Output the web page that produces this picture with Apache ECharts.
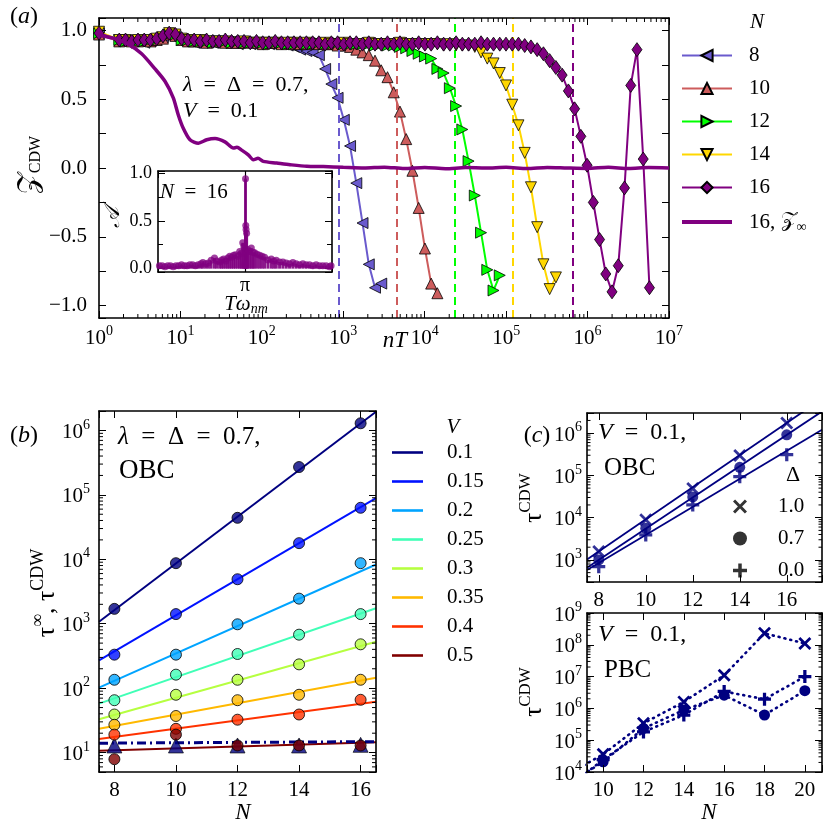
<!DOCTYPE html>
<html>
<head>
<meta charset="utf-8">
<script src="https://cdn.jsdelivr.net/npm/echarts@6.0.0/dist/echarts.min.js"></script>
<style>html,body{margin:0;padding:0;background:#fff;}#chart{width:830px;height:830px;}</style>
</head>
<body>
<div id="chart"></div>
<script>
// ================= DATA =================
// Panel (a): sampling times nT (shared grid) and Z_CDW for each system size
const timeGrid = [1, 1.774, 2.117, 2.525, 3.012, 3.593, 4.285, 5.112, 6.098, 7.274, 8.677,
  10.35, 12.35, 14.73, 17.57, 20.96, 25.0, 29.82, 35.58, 42.44, 50.62,
  60.39, 72.04, 85.93, 102.5, 122.3, 145.9, 174.0, 207.6, 247.6, 295.4,
  352.4, 420.4, 501.5, 598.2, 713.6, 851.1, 1015, 1211, 1445, 1723,
  2056, 2452, 2925, 3490, 4163, 4966, 5924, 7067, 8430, 10060,
  12000, 14310, 17070, 20370, 24290, 28970, 34560, 41230, 49190, 58670,
  69980, 83480, 99590, 118800, 141700, 169000, 201700, 240500, 287000, 342300,
  408300, 487100, 581100, 693200, 826900, 986300, 1177000, 1404000, 1674000, 1997000,
  2382000, 2842000, 3390000, 4044000, 4824000, 5754000, 6864000, 8188000];
const zN8 = [0.98, 0.93,0.92,0.92,0.93,0.91,0.92,0.94,0.95,0.97,0.96, 0.93,0.92,0.91,0.92,0.92,0.91,0.92,0.91,0.92,0.90,
  0.91,0.90,0.91,0.91,0.90,0.91,0.90,0.89,0.88,0.86, 0.85,0.84,0.82,0.72,0.61,0.51,0.35,0.16,-0.11,-0.40, -0.70,-0.87,-0.84];
const zN10 = [0.97, 0.92,0.93,0.92,0.92,0.93,0.92,0.93,0.94,0.97,0.96, 0.93,0.92,0.92,0.92,0.91,0.92,0.92,0.91,0.91,0.91,
  0.91,0.92,0.91,0.90,0.91,0.91,0.90,0.91,0.90,0.90, 0.90,0.91,0.90,0.90,0.90,0.89,0.89,0.88,
  0.86,0.84,0.82,0.78,0.71,0.66,0.55,0.41,0.21,-0.02,-0.29,-0.585,-0.84,-0.91];
const zN12 = [0.98, 0.93,0.92,0.93,0.92,0.92,0.93,0.93,0.95,0.97,0.97, 0.93,0.93,0.92,0.92,0.92,0.91,0.92,0.92,0.91,0.92,
  0.91,0.91,0.91,0.91,0.90,0.91,0.91,0.90,0.90,0.91, 0.90,0.90,0.91,0.90,0.90,0.91,0.90,0.90,0.90,0.90,
  0.90,0.89,0.90,0.89,0.89,0.88,0.87,0.85,
  0.83,0.81,0.795,0.72,0.69,0.58,0.45,0.28,0.05,-0.20,-0.47,-0.74,-0.89,-0.78];
const zN14 = [0.99, 0.93,0.93,0.92,0.93,0.92,0.93,0.94,0.95,0.98,0.97, 0.94,0.93,0.92,0.93,0.92,0.92,0.92,0.92,0.91,0.91,
  0.92,0.91,0.91,0.91,0.91,0.91,0.90,0.91,0.91,0.90, 0.91,0.90,0.90,0.91,0.90,0.90,0.91,0.90,0.90,0.90,
  0.91,0.90,0.90,0.90,0.90,0.91,0.90,0.90,0.90,0.90, 0.90,0.90,0.89,0.90,0.89,0.89,0.89,
  0.88,0.84,0.795,0.76,0.69,0.60,0.46,0.31,0.11,-0.14,-0.43,-0.70,-0.88,-0.795];
const zN16 = [0.98, 0.93,0.93,0.92,0.93,0.93,0.93,0.94,0.96,0.98,0.97, 0.94,0.93,0.93,0.92,0.93,0.92,0.92,0.93,0.92,0.92,
  0.92,0.91,0.92,0.91,0.91,0.92,0.91,0.91,0.91,0.91, 0.91,0.91,0.91,0.90,0.91,0.91,0.90,0.91,0.91,0.90,
  0.91,0.90,0.90,0.91,0.90,0.91,0.90,0.90,0.91,0.90, 0.90,0.91,0.90,0.90,0.91,0.90,0.90,0.90,0.91,0.90,
  0.90,0.90,0.90,0.90,
  0.90,0.89,0.88,0.86,0.83,0.78,0.73,0.675,0.56,0.43,0.23,0.02,-0.25,-0.52,-0.77,-0.90,-0.71,-0.145,0.60,0.86,0.065,-0.87];
const zInfT = [1, 1.57, 2.29, 3.34, 4.88, 6.46, 8.17, 9.42, 10.8, 13.1, 16.6, 21.0, 26.6, 35.2, 44.6, 49.5, 56.5, 68.1, 78.5, 89.7,
  104, 152, 222, 356, 569, 1000, 1800, 3200, 5600, 1e4, 1.8e4, 3.2e4, 5.6e4, 1e5, 1.8e5, 3.2e5, 5.6e5, 1e6, 1.8e6, 3.2e6, 5.6e6, 1e7];
const zInfV = [0.965, 0.94, 0.90, 0.83, 0.72, 0.63, 0.51, 0.385, 0.29, 0.205, 0.18, 0.205, 0.215, 0.19, 0.145, 0.15, 0.13, 0.096, 0.06, 0.07,
  0.048, 0.036, 0.024, 0.012, 0.01, 0.005, 0.0, 0.006, -0.004, 0.004, -0.005, 0.003, 0.0, 0.005, -0.004, 0.004, 0.0, -0.003, 0.005, -0.004, 0.003, 0.0];
const tauDashed = [870, 4530, 23500, 119000, 649000];
// Inset: spectral weight A vs T*omega_nm
const insetW = [0.05,0.15,0.25,0.35,0.45,0.55,0.65,0.75,0.85,0.95,1.05,1.15,1.25,1.35,1.45,1.55,
  1.62,1.72,1.82,1.92,2.04,2.13,2.23,2.30,2.37,2.45, 2.52,2.59,2.66,2.73,2.80,2.88,2.95,3.01,3.06,3.10,
  3.14,3.16,3.17,3.18,3.20,3.24,3.30,3.37,3.43,3.49, 3.58,3.67,3.76,3.85,3.97,4.09,4.18,4.27,4.39,4.51,
  4.63,4.75,4.87,4.99,5.11,5.23,5.35,5.47,5.59,5.71, 5.83,5.95,6.07,6.19,6.25];
const insetA = [0.03,0.03,0.02,0.03,0.03,0.02,0.03,0.03,0.04,0.03,0.03,0.04,0.04,0.03,0.04,0.05,
  0.063,0.05,0.06,0.087,0.11,0.08,0.07,0.09,0.10,0.08, 0.11,0.13,0.12,0.14,0.145,0.13,0.18,0.16,0.27,0.23,
  0.04,0.94,0.45,0.41,0.37,0.20,0.18,0.215,0.17,0.167, 0.15,0.14,0.13,0.12,0.09,0.10,0.08,0.087,0.07,0.07,
  0.06,0.05,0.063,0.05,0.04,0.05,0.04,0.04,0.03,0.04, 0.03,0.03,0.03,0.02,0.03];
const insetPeak = Math.PI;
// Panel (b): tau^CDW vs N for several V, fits and tau^infinity
const sizesB = [8, 10, 12, 14, 16];
const vLabels = ['0.1', '0.15', '0.2', '0.25', '0.3', '0.35', '0.4', '0.5'];
const tauV010 = [1700, 8700, 44000, 270000, 1290000];
const tauV015 = [331, 1410, 4900, 17800, 63000];
const tauV020 = [135, 331, 980, 2450, 8700];
const tauV025 = [65, 162, 339, 676, 1410];
const tauV030 = [39, 79, 135, 234, 479];
const tauV035 = [27, 37, 65, 79, 135];
const tauV040 = [19, 23.4, 32.4, 39, 66];
const tauV050 = [7.9, 19, 12.9, 12.9, 12.9];
const fitEndsB = [7.5, 16.5];
const fitV010 = [1070, 1950000];
const fitV015 = [269, 89100];
const fitV020 = [102, 8300];
const fitV025 = [57.5, 1740];
const fitV030 = [33, 525];
const fitV035 = [23.4, 145];
const fitV040 = [16.2, 61.7];
const fitV050 = [10.7, 14.5];
const tauInf = [12.9, 12.9, 12.9, 12.9, 13.2];
const tauInfFit = [14.0, 14.8];
// Panel (c) top: OBC, V = 0.1
const sizesC = [8, 10, 12, 14, 16];
const obcD10 = [1580, 8900, 49000, 295000, 1740000];
const obcD07 = [1000, 5600, 31000, 155000, 912000];
const obcD00 = [690, 3900, 20000, 93000, 309000];
const fitEndsC = [7.5, 17.5];
const fitD10 = [1020, 6500000];
const fitD07 = [653, 3270000];
const fitD00 = [575, 1200000];
// Panel (c) bottom: PBC, V = 0.1
const sizesP = [8, 10, 12, 14, 16, 18, 20];
const pbcD10 = [6900, 36000, 340000, 1600000, 11000000, 230000000, 110000000];
const pbcD07 = [3200, 21000, 234000, 890000, 2600000, 620000, 3600000];
const pbcD00 = [2500, 24500, 182000, 620000, 3400000, 1950000, 10000000];

// ================= STYLE / HELPERS =================
const F = "'Liberation Serif','DejaVu Serif',serif";
const MF = "'Liberation Serif','DejaVu Serif','DejaVu Sans','Noto Sans',serif";
const K = '#000';
const NAVY = '#000080';
const jet = ['#000080', '#0012ff', '#00a4ff', '#40ffb6', '#b6ff40', '#ffb900', '#ff3200', '#800000'];
const X_PATH = 'path://M3,0 L10,7 L17,0 L20,3 L13,10 L20,17 L17,20 L10,13 L3,20 L0,17 L7,10 L0,3 Z';
const P_PATH = 'path://M7.5,0 H12.5 V7.5 H20 V12.5 H12.5 V20 H7.5 V12.5 H0 V7.5 H7.5 Z';
const BAR50 = 'path://M0,0 H50 V4 H0 Z';
const BAR31 = 'path://M0,0 H31 V2.6 H0 Z';

const axRich = {
  b: {fontFamily: F, fontSize: 21, color: K, verticalAlign: 'bottom'},
  s: {fontFamily: F, fontSize: 14, color: K, verticalAlign: 'top', padding: [0, 0, 11, 0]}
};
function logLabel(v) { const e = Math.log10(v), r = Math.round(e); return Math.abs(e - r) < 1e-6 ? '{b|10}{s|' + r + '}' : ''; }
function decLabel(v) { if (Math.abs(v * 2 - Math.round(v * 2)) > 1e-6) return ''; if (Math.abs(v) < 1e-9) return '0.0'; return v.toFixed(1).replace('-', '\u2212'); }
function intLabel(v) { return Math.abs(v - Math.round(v)) < 1e-6 ? String(Math.round(v)) : ''; }

function axis(gi, pos, cfg, label) {
  return Object.assign({
    type: 'value', gridIndex: gi, position: pos,
    axisLine: {show: true, onZero: false, lineStyle: {color: K, width: 1.6}},
    axisTick: {show: true, inside: true, length: 7, lineStyle: {color: K, width: 1}},
    splitLine: {show: false},
    axisLabel: label ? Object.assign({show: true, color: K, fontFamily: F, fontSize: 21, rich: axRich, showMinLabel: true, showMaxLabel: true}, label) : {show: false},
    z: 5
  }, cfg);
}
function logMinors(lo, hi) {
  const out = [];
  for (let k = -1; k <= 9; k++) for (let m = 2; m <= 9; m++) { const v = m * Math.pow(10, k); if (v > lo * 1.0001 && v < hi * 0.9999) out.push(v); }
  return out;
}
function minorSeries(ai, dim, vals, o0, o1, len) {
  return {
    type: 'custom', xAxisIndex: ai, yAxisIndex: ai, silent: true, clip: false, z: 30,
    data: vals.map(v => dim === 'x' ? [v, o0] : [o0, v]),
    renderItem: function (params, api) {
      const st = {stroke: K, lineWidth: 1};
      if (dim === 'x') {
        const v = api.value(0); const p = api.coord([v, o0]), q = api.coord([v, o1]);
        return {type: 'group', children: [
          {type: 'line', shape: {x1: p[0], y1: p[1], x2: p[0], y2: p[1] - len}, style: st},
          {type: 'line', shape: {x1: q[0], y1: q[1], x2: q[0], y2: q[1] + len}, style: st}]};
      }
      const v = api.value(1); const p = api.coord([o0, v]), q = api.coord([o1, v]);
      return {type: 'group', children: [
        {type: 'line', shape: {x1: p[0], y1: p[1], x2: p[0] + len, y2: p[1]}, style: st},
        {type: 'line', shape: {x1: q[0], y1: q[1], x2: q[0] - len, y2: q[1]}, style: st}]};
    }
  };
}

// ================= AXES =================
const cfgXa = {type: 'log', logBase: 10, min: 1, max: 1e7, splitNumber: 7};
const cfgYa = {min: -1.09, max: 1.09, splitNumber: 4, minorTick: {show: true, splitNumber: 2, length: 7, lineStyle: {color: K, width: 1}}};
const cfgXi = {min: 0, max: 2 * Math.PI, interval: Math.PI};
const cfgYi = {min: -0.035, max: 1.02, splitNumber: 2, minorTick: {show: true, splitNumber: 2, length: 5, lineStyle: {color: K, width: 1}}};
const cfgXb = {min: 7.5, max: 16.5, splitNumber: 5};
const cfgYb = {type: 'log', logBase: 10, min: 5, max: 2e6, splitNumber: 5};
const cfgXc1 = {min: 7.5, max: 17.5, splitNumber: 5};
const cfgYc1 = {type: 'log', logBase: 10, min: 300, max: 3e6, splitNumber: 4};
const cfgXc2 = {min: 9.2, max: 20.85, splitNumber: 5};
const cfgYc2 = {type: 'log', logBase: 10, min: 1e4, max: 1e9, splitNumber: 5};

const xAxes = [
  axis(0, 'bottom', cfgXa, {formatter: logLabel, margin: 6}),
  axis(0, 'top', cfgXa, null),
  axis(1, 'bottom', cfgXi, {formatter: v => Math.abs(v - Math.PI) < 1e-6 ? '\u03c0' : '', fontSize: 20, margin: 4}),
  axis(1, 'top', cfgXi, null),
  axis(2, 'bottom', cfgXb, {formatter: intLabel, margin: 8}),
  axis(2, 'top', cfgXb, null),
  axis(3, 'bottom', cfgXc1, {formatter: intLabel, margin: 8}),
  axis(3, 'top', cfgXc1, null),
  axis(4, 'bottom', cfgXc2, {formatter: intLabel, margin: 8}),
  axis(4, 'top', cfgXc2, null)
];
const yAxes = [
  axis(0, 'left', cfgYa, {formatter: decLabel, margin: 12}),
  axis(0, 'right', cfgYa, null),
  axis(1, 'left', cfgYi, {formatter: decLabel, fontSize: 18, margin: 6}),
  axis(1, 'right', cfgYi, null),
  axis(2, 'left', cfgYb, {formatter: logLabel, margin: 9}),
  axis(2, 'right', cfgYb, null),
  axis(3, 'left', cfgYc1, {formatter: logLabel, margin: 5}),
  axis(3, 'right', cfgYc1, null),
  axis(4, 'left', cfgYc2, {formatter: logLabel, margin: 5}),
  axis(4, 'right', cfgYc2, null)
];

// ================= SERIES =================
const series = [];
const aDefs = [
  {name: '8', y: zN8, color: '#6a5acd', symbol: 'triangle', rot: 90, size: 11},
  {name: '10', y: zN10, color: '#cd5c5c', symbol: 'triangle', rot: 0, size: 11},
  {name: '12', y: zN12, color: '#00ff00', symbol: 'triangle', rot: -90, size: 11},
  {name: '14', y: zN14, color: '#ffd700', symbol: 'triangle', rot: 180, size: 11},
  {name: '16', y: zN16, color: '#800080', symbol: 'diamond', rot: 0, size: [10, 14]}
];
aDefs.forEach((d, k) => {
  series.push({
    type: 'line', name: d.name, xAxisIndex: 0, yAxisIndex: 0,
    data: d.y.map((v, i) => [timeGrid[i], v]),
    symbol: d.symbol, symbolSize: d.size, symbolRotate: d.rot, showSymbol: true, showAllSymbol: true,
    lineStyle: {color: d.color, width: 2}, itemStyle: {color: d.color, borderColor: K, borderWidth: 0.8},
    z: 3 + k, clip: true,
    markLine: {silent: true, symbol: ['none', 'none'], label: {show: false}, animation: false,
      lineStyle: {color: d.color, width: 2, type: [8, 5]}, data: [{xAxis: tauDashed[k]}]}
  });
});
series.push({
  type: 'line', name: '16, Z\u221e', xAxisIndex: 0, yAxisIndex: 0,
  data: zInfT.map((t, i) => [t, zInfV[i]]), symbol: 'none', showSymbol: false, smooth: 0.25,
  lineStyle: {color: '#800080', width: 3.5}, itemStyle: {color: '#800080'}, z: 9
});
// inset
series.push({type: 'bar', xAxisIndex: 2, yAxisIndex: 2, data: insetW.map((w, i) => [w, insetA[i]]), barWidth: 3,
  itemStyle: {color: '#800080', opacity: 0.9}, z: 20, silent: true});
series.push({type: 'scatter', xAxisIndex: 2, yAxisIndex: 2, data: insetW.map((w, i) => [w, insetA[i]]), symbolSize: 7,
  itemStyle: {color: '#800080', opacity: 0.75}, z: 21, silent: true,
  markLine: {silent: true, symbol: ['none', 'none'], label: {show: false}, animation: false,
    lineStyle: {color: '#3a003a', width: 1.2, type: 'solid'}, data: [{xAxis: insetPeak}]}});
// panel (b)
const bTau = [tauV010, tauV015, tauV020, tauV025, tauV030, tauV035, tauV040, tauV050];
const bFit = [fitV010, fitV015, fitV020, fitV025, fitV030, fitV035, fitV040, fitV050];
vLabels.forEach((v, k) => {
  series.push({type: 'line', name: v, xAxisIndex: 4, yAxisIndex: 4, data: fitEndsB.map((n, i) => [n, bFit[k][i]]),
    symbol: 'none', showSymbol: false, lineStyle: {color: jet[k], width: 2}, itemStyle: {color: jet[k]}, z: 2, clip: true});
});
series.push({type: 'line', name: 'tauInfFit', xAxisIndex: 4, yAxisIndex: 4, data: fitEndsB.map((n, i) => [n, tauInfFit[i]]),
  symbol: 'none', showSymbol: false, lineStyle: {color: NAVY, width: 3, type: [9, 4, 2, 4]}, z: 3});
series.push({type: 'scatter', name: 'tauInf', xAxisIndex: 4, yAxisIndex: 4, data: sizesB.map((n, i) => [n, tauInf[i]]),
  symbol: 'triangle', symbolSize: 15, itemStyle: {color: NAVY, borderColor: K, borderWidth: 0.8}, z: 4});
vLabels.forEach((v, k) => {
  series.push({type: 'scatter', name: 'pts' + v, xAxisIndex: 4, yAxisIndex: 4, data: sizesB.map((n, i) => [n, bTau[k][i]]),
    symbolSize: 11, itemStyle: {color: jet[k], borderColor: K, borderWidth: 1}, z: 5});
});
// panel (c)
const cDefs = [
  {name: '\u03941.0', pts: obcD10, fit: fitD10, pbc: pbcD10, sym: X_PATH, size: 13},
  {name: '\u03940.7', pts: obcD07, fit: fitD07, pbc: pbcD07, sym: 'circle', size: 11},
  {name: '\u03940.0', pts: obcD00, fit: fitD00, pbc: pbcD00, sym: P_PATH, size: 13}
];
cDefs.forEach(d => {
  series.push({type: 'line', name: 'fit' + d.name, xAxisIndex: 6, yAxisIndex: 6, data: fitEndsC.map((n, i) => [n, d.fit[i]]),
    symbol: 'none', showSymbol: false, lineStyle: {color: NAVY, width: 1.8}, z: 2, clip: true});
});
cDefs.forEach(d => {
  series.push({type: 'scatter', name: d.name, xAxisIndex: 6, yAxisIndex: 6, data: sizesC.map((n, i) => [n, d.pts[i]]),
    symbol: d.sym, symbolSize: d.size, itemStyle: {color: NAVY}, z: 4});
});
cDefs.forEach(d => {
  series.push({type: 'line', name: 'pbc' + d.name, xAxisIndex: 8, yAxisIndex: 8, data: sizesP.map((n, i) => [n, d.pbc[i]]),
    symbol: d.sym, symbolSize: d.size, showSymbol: true, itemStyle: {color: NAVY},
    lineStyle: {color: NAVY, width: 2.6, type: [1, 5], cap: 'round'}, z: 4, clip: true});
});
// minor ticks of the log axes
series.push(minorSeries(0, 'x', logMinors(1, 1e7), -1.09, 1.09, 4));
series.push(minorSeries(4, 'y', logMinors(5, 2e6), 7.5, 16.5, 4));
series.push(minorSeries(6, 'y', logMinors(300, 3e6), 7.5, 17.5, 3.5));
series.push(minorSeries(8, 'y', logMinors(1e4, 1e9), 9.2, 20.85, 3.5));

// ================= TEXT =================
function richFor(s) {
  const sm = Math.round(s * 0.68);
  return {
    n: {fill: K, fontFamily: MF, fontSize: s, verticalAlign: 'bottom'},
    i: {fill: K, fontFamily: MF, fontSize: s, fontStyle: 'italic', verticalAlign: 'bottom'},
    nt: {fill: K, fontFamily: MF, fontSize: s, verticalAlign: 'top'},
    it: {fill: K, fontFamily: MF, fontSize: s, fontStyle: 'italic', verticalAlign: 'top'},
    zt: {fill: K, fontFamily: MF, fontSize: s + 4, verticalAlign: 'top'},
    sup: {fill: K, fontFamily: MF, fontSize: sm, verticalAlign: 'top', padding: [0, 0, Math.round(s * 0.5), 0]},
    sb: {fill: K, fontFamily: MF, fontSize: sm, verticalAlign: 'bottom', padding: [Math.round(s * 0.45), 0, 0, 0]},
    sbi: {fill: K, fontFamily: MF, fontSize: sm, fontStyle: 'italic', verticalAlign: 'bottom', padding: [Math.round(s * 0.45), 0, 0, 0]}
  };
}
const graphics = [];
function T(x, y, text, o) {
  o = o || {};
  const s = o.size || 22;
  graphics.push({type: 'text', x: x, y: y, rotation: o.rot || 0, silent: true, z: 100,
    style: {text: text, fill: K, fontFamily: MF, fontSize: s, align: o.align || 'left', verticalAlign: 'middle', rich: richFor(s)}});
}
const EQ = '\u2002=\u2002';
T(24, 17, '{n|(}{i|a}{n|)}', {size: 24, align: 'center'});
T(24, 436, '{n|(}{i|b}{n|)}', {size: 24, align: 'center'});
T(537, 436, '{n|(}{i|c}{n|)}', {size: 24, align: 'center'});
T(30, 165, '{zt|\ud835\udcb5}{sb|CDW}', {size: 24, align: 'center', rot: Math.PI / 2});
T(395, 341, '{i|nT}', {size: 23, align: 'center'});
T(183, 85, '{i|\u03bb}{n|' + EQ + '\u0394' + EQ + '0.7,}', {size: 22});
T(183, 111, '{i|V}{n|' + EQ + '0.1}', {size: 22});
T(160, 192, '{i|N}{n|' + EQ + '16}', {size: 21});
T(113, 217, '{i|\ud835\udc9c}', {size: 22, align: 'center', rot: Math.PI / 2});
T(246, 305, '{it|T\u03c9}{sbi|nm}', {size: 21, align: 'center'});
T(757, 22, '{i|N}', {size: 21, align: 'center'});
// panel b
T(45, 593, '{n|\u03c4}{sup|\u221e}{n|, \u03c4}{sup|CDW}', {size: 26, align: 'center', rot: Math.PI / 2});
T(243, 813, '{i|N}', {size: 23, align: 'center'});
T(118, 437, '{i|\u03bb}{n|' + EQ + '\u0394' + EQ + '0.7,}', {size: 25});
T(119, 471, '{n|OBC}', {size: 27});
T(453, 427, '{i|V}', {size: 21, align: 'center'});
// panel c
T(532, 498, '{n|\u03c4}{sup|CDW}', {size: 25, align: 'center', rot: Math.PI / 2});
T(532, 692, '{n|\u03c4}{sup|CDW}', {size: 25, align: 'center', rot: Math.PI / 2});
T(709, 813, '{i|N}', {size: 23, align: 'center'});
T(598, 433, '{i|V}{n|' + EQ + '0.1,}', {size: 24});
T(604, 468, '{n|OBC}', {size: 25});
T(598, 635, '{i|V}{n|' + EQ + '0.1,}', {size: 24});
T(604, 670, '{n|PBC}', {size: 25});
T(793, 475, '{n|\u0394}', {size: 22, align: 'center'});

// ================= OPTION =================
const legText = {color: K, fontFamily: F, fontSize: 21};
const option = {
  animation: false,
  backgroundColor: '#fff',
  grid: [
    {left: 99, top: 18, width: 570, height: 300, outerBoundsMode: 'none'},
    {left: 158, top: 171, width: 174, height: 101, outerBoundsMode: 'none'},
    {left: 99, top: 411, width: 277, height: 361, outerBoundsMode: 'none'},
    {left: 587, top: 413, width: 235, height: 169, outerBoundsMode: 'none'},
    {left: 587, top: 613, width: 235, height: 159, outerBoundsMode: 'none'}
  ],
  xAxis: xAxes,
  yAxis: yAxes,
  legend: [
    {data: ['8', '10', '12', '14', '16', {name: '16, Z\u221e', icon: BAR50}], orient: 'vertical', left: 681, top: 45, padding: 0,
      itemWidth: 50, itemHeight: 14, itemGap: 12, selectedMode: false,
      formatter: n => n === '16, Z\u221e' ? '16, {z|\ud835\udcb5}{zs|\u221e}' : n,
      textStyle: Object.assign({padding: [0, 0, 0, 12], rich: {
        z: {fontFamily: MF, fontSize: 21, color: K, verticalAlign: 'top'},
        zs: {fontFamily: MF, fontSize: 14, color: K, verticalAlign: 'bottom', padding: [10, 0, 0, 0]}}}, legText)},
    {data: vLabels.map(v => ({name: v, icon: BAR31})), orient: 'vertical', left: 392, top: 442, padding: 0,
      itemWidth: 31, itemHeight: 14, itemGap: 8, selectedMode: false,
      textStyle: Object.assign({padding: [0, 0, 0, 19]}, legText)},
    {data: cDefs.map(d => d.name), orient: 'vertical', left: 733, top: 496, padding: 0,
      itemWidth: 14, itemHeight: 14, itemGap: 11, selectedMode: false, itemStyle: {color: K, borderWidth: 0},
      formatter: n => n.slice(1), textStyle: Object.assign({padding: [0, 0, 0, 26]}, legText)}
  ],
  graphic: graphics,
  series: series
};
const chart = echarts.init(document.getElementById('chart'), null, {renderer: 'canvas'});
chart.setOption(option);
</script>
</body>
</html>
